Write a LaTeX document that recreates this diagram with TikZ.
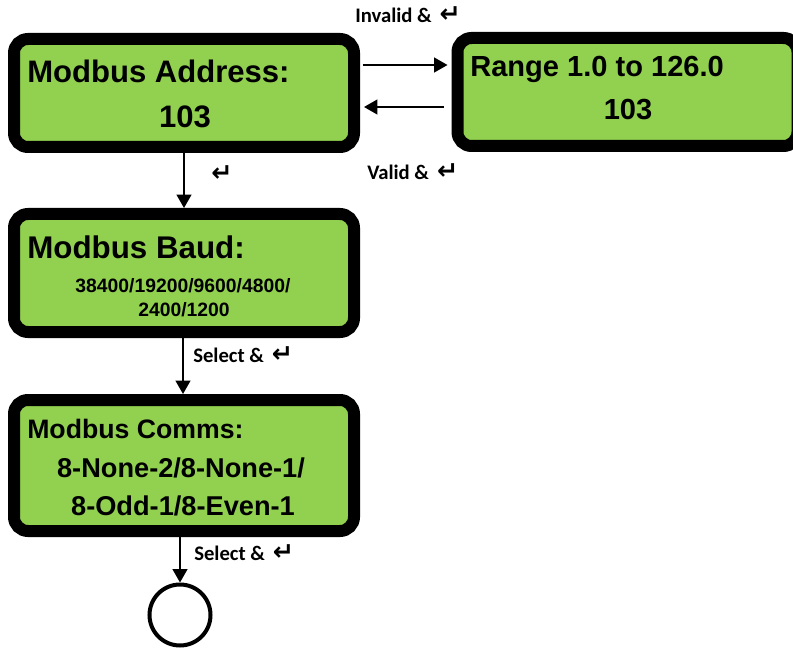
\documentclass[tikz,border=0pt]{standalone}
\usepackage{fontspec}
\usetikzlibrary{arrows.meta,calc}
\newfontfamily\arialf{Liberation Sans}
\newfontfamily\calibf{Carlito}
\newfontfamily\dejaf{DejaVu Sans}
\definecolor{lcdgreen}{RGB}{146,208,80}
\newcommand{\entersym}{{\dejaf\bfseries\fontsize{19}{20}\selectfont ↵}}
\begin{document}
\begin{tikzpicture}[x=0.75pt,y=-0.75pt,
  lcd/.style={draw=black,fill=lcdgreen,line width=9pt,rounded corners=10.5pt,
    minimum width=255pt,inner sep=0pt,rectangle},
  arr/.style={line width=1.5pt,-{Triangle[length=10pt,width=11pt]}},
  lbl/.style={inner sep=0pt,anchor=base west,font=\calibf\bfseries\fontsize{15.5}{18}\selectfont},
  txt/.style={inner sep=0pt},
  endc/.style={draw=black,line width=3pt,circle,minimum size=45.75pt,inner sep=0pt}]
\useasboundingbox (0,0) rectangle (793,649);
\clip (0,0) rectangle (793,649);
% boxes
\node[lcd,minimum height=81pt] (b1) at (184,93) {};
\node[lcd,minimum height=81pt] (b2) at (627.5,92) {};
\node[lcd,minimum height=88.5pt] (b3) at (184,273) {};
\node[lcd,minimum height=98.25pt] (b4) at (184,465.5) {};
\node[endc] (c) at (180,615) {};
% texts box 1
\node[txt,anchor=base west,font=\arialf\bfseries\fontsize{23.3}{27}\selectfont] (t1a) at (27,83) {Modbus Address:};
\node[txt,anchor=base,font=\arialf\bfseries\fontsize{23.3}{27}\selectfont] (t1b) at (185,128) {103};
% box 2
\node[txt,anchor=base west,font=\arialf\bfseries\fontsize{21.8}{26}\selectfont] (t2a) at (470,77) {Range 1.0 to 126.0};
\node[txt,anchor=base,font=\arialf\bfseries\fontsize{21.8}{26}\selectfont] (t2b) at (628,120) {103};
% box 3
\node[txt,anchor=base west,font=\arialf\bfseries\fontsize{23.5}{28}\selectfont] (t3a) at (27,258) {Modbus Baud:};
\node[txt,anchor=base,font=\arialf\bfseries\fontsize{14.5}{17}\selectfont] (t3b) at (183,292) {38400/19200/9600/4800/};
\node[txt,anchor=base,font=\arialf\bfseries\fontsize{14.5}{17}\selectfont] (t3c) at (184,316) {2400/1200};
% box 4
\node[txt,anchor=base west,font=\arialf\bfseries\fontsize{20}{24}\selectfont] (t4a) at (27,438) {Modbus Comms:};
\node[txt,anchor=base,font=\arialf\bfseries\fontsize{20.4}{24}\selectfont] (t4b) at (181,477) {8-None-2/8-None-1/};
\node[txt,anchor=base,font=\arialf\bfseries\fontsize{20.4}{24}\selectfont] (t4c) at (183,515) {8-Odd-1/8-Even-1};
% connectors
\draw[arr] (b1.south) -- (b3.north);
\draw[arr] (b3.south -| 183,0) -- (b4.north -| 183,0);
\draw[arr] (b4.south -| c.north) -- (c.north);
\draw[arr,shorten <=2pt,shorten >=3pt] (b1.east |- 0,65) -- (b2.west |- 0,65);
\draw[arr,shorten <=6pt,shorten >=3pt] (b2.west |- 0,107) -- (b1.east |- 0,107);
% labels
\node[lbl] (l1) at (355,23) {Invalid \&\hspace{2.5pt} \entersym};
\node[lbl] (l2) at (367,180) {Valid \&\hspace{2.5pt} \entersym};
\node[lbl] (l3) at (211,182) {\entersym};
\node[lbl] (l4) at (193,362) {Select \&\hspace{2.5pt} \entersym};
\node[lbl] (l5) at (194,560) {Select \&\hspace{2.5pt} \entersym};
\end{tikzpicture}
\end{document}
